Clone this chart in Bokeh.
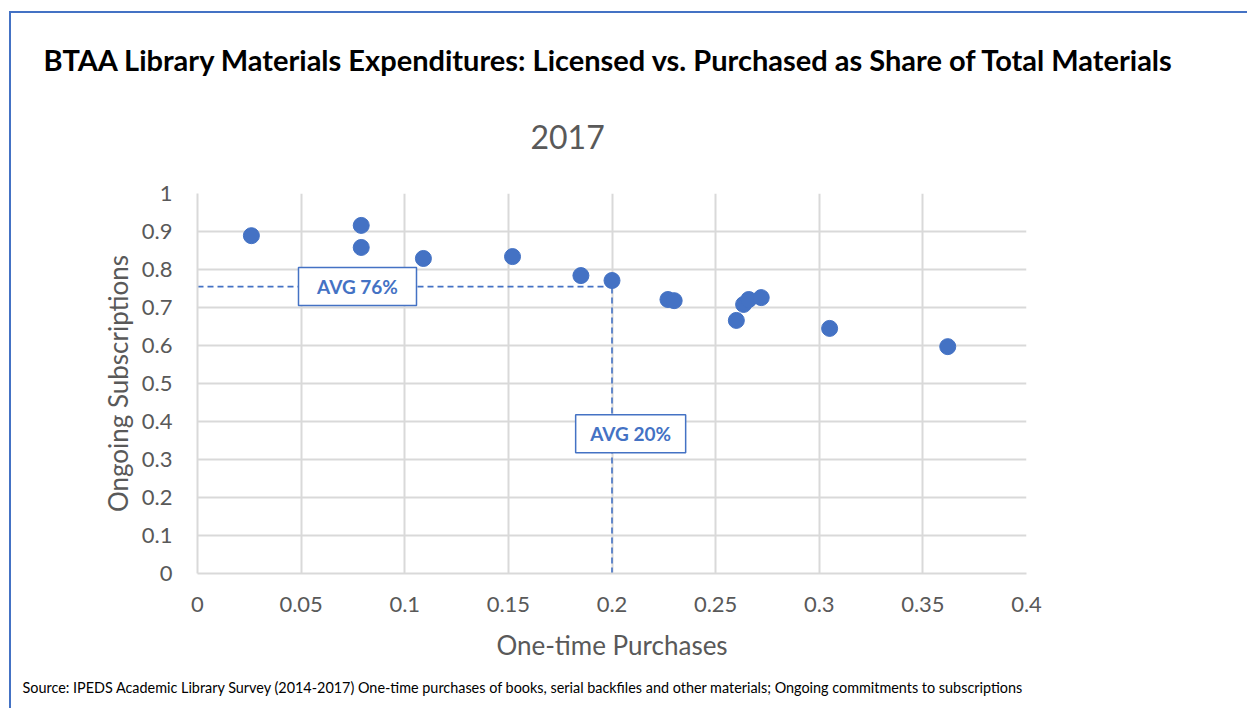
from bokeh.plotting import figure
from bokeh.models import Title, ColumnDataSource, FixedTicker
from bokeh.core.properties import value
from bokeh.embed import file_html
from bokeh.resources import INLINE

# --- data ---
one_time = [0.026, 0.079, 0.079, 0.109, 0.152, 0.185, 0.200, 0.227, 0.230,
            0.260, 0.2635, 0.266, 0.272, 0.305, 0.362]
ongoing = [0.889, 0.916, 0.858, 0.829, 0.834, 0.784, 0.771, 0.721, 0.718,
           0.666, 0.708, 0.721, 0.726, 0.645, 0.597]
avg_x = 0.20
avg_y = 0.755
avg_x_text = "AVG 20%"
avg_y_text = "AVG 76%"
x_ticks = [0, 0.05, 0.1, 0.15, 0.2, 0.25, 0.3, 0.35, 0.4]
y_ticks = [0, 0.1, 0.2, 0.3, 0.4, 0.5, 0.6, 0.7, 0.8, 0.9, 1]
title_text = "BTAA Library Materials Expenditures: Licensed vs. Purchased as Share of Total Materials"
subtitle_text = "2017"
source_text = ("Source: IPEDS Academic Library Survey (2014-2017)  One-time purchases of books, "
               "serial backfiles and other materials; Ongoing commitments to subscriptions")

BLUE = "#4472C4"
GRID = "#D9D9D9"
GRAY = "#595959"
FONT = "Lato"

W, H = 1238, 697
FL, FR, FT, FB = 186, 1015, 180, 560
p = figure(width=W, height=H, output_backend="svg", toolbar_location=None,
           x_range=(0, 0.4), y_range=(0, 1),
           min_border_left=FL, min_border_right=W - FR,
           min_border_top=FT, min_border_bottom=H - FB)
p.styles = {"margin-left": "9px", "margin-top": "11px",
            "border-top": "2px solid " + BLUE, "border-left": "2px solid " + BLUE}
p.outline_line_color = None
p.background_fill_color = "white"
p.border_fill_color = "white"

for ax in (p.xaxis[0], p.yaxis[0]):
    ax.axis_line_color = GRID
    ax.axis_line_width = 2
    ax.major_tick_line_color = None
    ax.minor_tick_line_color = None
    ax.major_label_text_font = FONT
    ax.major_label_text_font_size = "22px"
    ax.major_label_text_color = GRAY
    ax.axis_label_text_font = FONT
    ax.axis_label_text_font_size = "26px"
    ax.axis_label_text_color = GRAY
    ax.axis_label_text_font_style = "normal"

p.xaxis.ticker = FixedTicker(ticks=x_ticks)
p.yaxis.ticker = FixedTicker(ticks=y_ticks)
p.xaxis.major_label_overrides = {t: ("0" if t == 0 else f"{t:g}") for t in x_ticks}
p.yaxis.major_label_overrides = {t: ("0" if t == 0 else f"{t:g}") for t in y_ticks}
p.xaxis.axis_label = "One-time Purchases"
p.yaxis.axis_label = "Ongoing Subscriptions"
p.xaxis.major_label_standoff = 17
p.yaxis.major_label_standoff = 19
p.xaxis.axis_label_standoff = 14
p.yaxis.axis_label_standoff = 5

p.xgrid.ticker = FixedTicker(ticks=x_ticks)
p.ygrid.ticker = FixedTicker(ticks=y_ticks)
p.xgrid.grid_line_color = GRID
p.ygrid.grid_line_color = GRID
p.xgrid.grid_line_width = 2
p.ygrid.grid_line_width = 2

# average lines
p.segment(x0=[0, avg_x], y0=[avg_y, 0], x1=[avg_x, avg_x], y1=[avg_y, avg_y],
          line_color=BLUE, line_width=1.6, line_dash="6 4")

# points
src = ColumnDataSource(dict(x=one_time, y=ongoing))
p.scatter("x", "y", source=src, size=16, fill_color=BLUE, line_color=BLUE)

# average labels (boxes)
lab = ColumnDataSource(dict(x=[0.0772, 0.209], y=[avg_y, 0.368],
                            t=[avg_y_text, avg_x_text], w=[118, 110]))
p.rect("x", "y", width="w", height=38, width_units="screen", height_units="screen",
       source=lab, fill_color="white", line_color=BLUE, line_width=1.5)
p.text("x", "y", text="t", source=lab, text_align="center", text_baseline="middle",
       text_font=value(FONT), text_font_style="bold", text_font_size="19px",
       text_color=BLUE)

# titles and source
p.add_layout(Title(text=subtitle_text, align="left", offset=333, standoff=89,
                   text_font=FONT, text_font_size="32px", text_color=GRAY,
                   text_font_style="normal"), "above")
p.add_layout(Title(text=title_text, align="left", offset=-154, standoff=3,
                   text_font=FONT, text_font_size="29px", text_color="black",
                   text_font_style="bold"), "above")
p.add_layout(Title(text=source_text, align="left", offset=-175, standoff=27,
                   text_font=FONT, text_font_size="14.4px", text_color="black",
                   text_font_style="normal"), "below")

open("out.html", "w").write(file_html(p, INLINE))
